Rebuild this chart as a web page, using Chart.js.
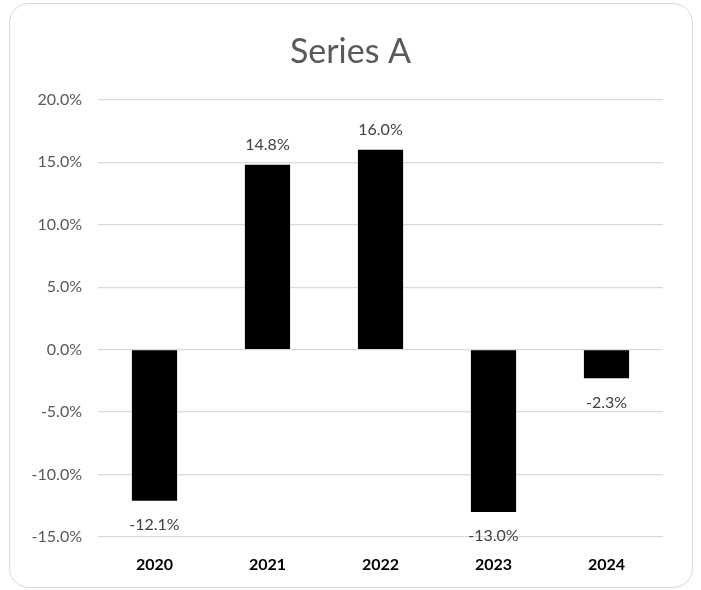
<!DOCTYPE html>
<html>
<head>
<meta charset="utf-8">
<title>Series A</title>
<script src="https://cdn.jsdelivr.net/npm/chart.js@4"></script>
<style>
  html, body { margin: 0; padding: 0; background: #fff; }
  .frame {
    position: absolute; left: 9px; top: 3px; width: 684px; height: 585px;
    border: 1.5px solid #d9d9d9; border-radius: 20px; box-sizing: border-box;
  }
  .wrap { position: absolute; left: 0; top: 0; width: 701px; height: 590px; }
</style>
</head>
<body>
<div class="frame"></div>
<div class="wrap"><canvas id="bar-chart"></canvas></div>
<script>
// yearly returns, in percent
const years = ["2020", "2021", "2022", "2023", "2024"];
const returns = [-12.1, 14.8, 16.0, -13.0, -2.3];
const yMin = -15;
const yMax = 20;
const yStep = 5;

const FONT = "Lato, 'Open Sans', sans-serif";

// value labels just outside the end of each bar
const barLabels = {
  id: 'barLabels',
  afterDatasetsDraw(chart) {
    const ctx = chart.ctx;
    const meta = chart.getDatasetMeta(0);
    ctx.save();
    ctx.font = "16px " + FONT;
    ctx.fillStyle = "#404040";
    ctx.textAlign = "center";
    ctx.textBaseline = "middle";
    meta.data.forEach((bar, i) => {
      const v = returns[i];
      const y = v >= 0 ? bar.y - 20 : bar.y + 24;
      ctx.fillText(v.toFixed(1) + "%", bar.x, y);
    });
    ctx.restore();
  }
};

new Chart(document.getElementById("bar-chart"), {
  type: 'bar',
  data: {
    labels: years,
    datasets: [{
      label: "Series A",
      data: returns,
      backgroundColor: "#000000",
      borderWidth: 0,
      barPercentage: 0.4,
      categoryPercentage: 1.0
    }]
  },
  options: {
    responsive: true,
    maintainAspectRatio: false,
    animation: false,
    layout: { padding: 0 },
    plugins: {
      legend: { display: false },
      tooltip: { enabled: false },
      title: {
        display: true,
        text: "Series A",
        color: "#595959",
        font: { family: FONT, size: 34, weight: 'normal' },
        padding: { top: 32, bottom: 27 }
      }
    },
    scales: {
      x: {
        grid: { display: false, drawTicks: false },
        border: { display: false },
        ticks: {
          color: "#000000",
          font: { family: FONT, size: 16, weight: 'bold' },
          padding: 18
        },
        afterFit(scale) { scale.height = 53; }
      },
      y: {
        min: yMin,
        max: yMax,
        grid: { color: "#d9d9d9", lineWidth: 1.3, drawTicks: false },
        border: { display: false },
        ticks: {
          stepSize: yStep,
          color: "#595959",
          font: { family: FONT, size: 16 },
          padding: 16,
          callback: v => v.toFixed(1) + "%"
        },
        afterFit(scale) { scale.width = 98; }
      },
      // empty right-hand margin so the title stays centred on the frame
      yRight: {
        position: 'right',
        grid: { display: false },
        border: { display: false },
        ticks: { display: false },
        afterFit(scale) { scale.width = 38; }
      }
    }
  },
  plugins: [barLabels]
});
</script>
</body>
</html>
